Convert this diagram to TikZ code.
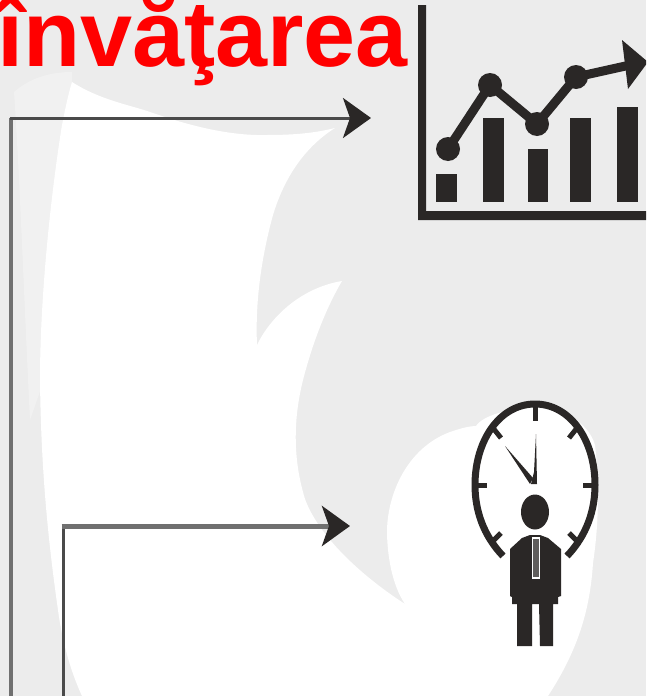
\documentclass[tikz,border=0pt]{standalone}
\usepackage{fontspec}
\setmainfont{Liberation Sans}
\usetikzlibrary{arrows.meta}
\definecolor{bg}{HTML}{ECECEC}
\definecolor{bgsoft}{HTML}{F1F1F1}
\definecolor{ink}{HTML}{2A2726}
\definecolor{wire}{HTML}{4A4A4A}
\definecolor{wirelight}{HTML}{707070}
\tikzset{
  title/.style={anchor=base west,inner sep=0pt,text=red,font=\fontsize{93.5}{94}\selectfont\bfseries},
  link/.style={draw=wire,line width=3pt},
  linkhead/.style={-{Stealth[length=28pt,width=40pt,inset=7pt,color=ink]}},
  inkfill/.style={fill=ink,draw=none},
  plotline/.style={draw=ink,line width=9pt},
  dot/.style={circle,fill=ink,draw=none,inner sep=0pt,minimum size=24pt},
  tick/.style={draw=ink,line width=5pt}
}
\begin{document}
\begin{tikzpicture}[x=1pt,y=-1pt]
\useasboundingbox (0,0) rectangle (646,696);
\clip (0,0) rectangle (646,696);
\fill[bg] (0,0) rectangle (646,696);
% soft band left of the flame
\fill[bgsoft] (14,92) .. controls (30,78) and (50,72) .. (72,72)
  -- (72,300) -- (30,420) .. controls (24,300) and (20,180) .. (14,92) -- cycle;
% white flame
\fill[white] (72,82)
  .. controls (100,100) and (130,105) .. (150,112)
  .. controls (190,126) and (230,136) .. (267,135)
  .. controls (295,135) and (315,133) .. (335,128)
  .. controls (300,150) and (282,185) .. (273,215)
  .. controls (262,255) and (255,300) .. (257,345)
  .. controls (270,318) and (300,288) .. (342,281)
  .. controls (325,310) and (312,345) .. (303,380)
  .. controls (293,420) and (293,460) .. (305,499)
  .. controls (318,535) and (360,575) .. (405,604)
  .. controls (392,585) and (387,555) .. (387,530)
  .. controls (388,490) and (410,445) .. (453,431)
  .. controls (462,428) and (470,426) .. (476,426)
  .. controls (490,405) and (580,395) .. (595,445)
  .. controls (600,490) and (598,530) .. (593,563)
  .. controls (590,610) and (578,650) .. (548,696)
  -- (82,696)
  .. controls (70,670) and (62,640) .. (58,610)
  .. controls (48,540) and (41,470) .. (40,380)
  .. controls (40,300) and (50,200) .. (62,125)
  .. controls (65,110) and (68,95) .. (72,82) -- cycle;
% chart
\path[inkfill] (418,5) rectangle (426,219) (418,211) rectangle (646,220);
\path[inkfill] (436,174) rectangle (457,202);
\path[inkfill] (483,118) rectangle (504,202);
\path[inkfill] (528,149) rectangle (548,202);
\path[inkfill] (570,118) rectangle (591,202);
\path[inkfill] (617,107) rectangle (638,202);
\node[dot] (p1) at (448,149) {};
\node[dot] (p2) at (490,85) {};
\node[dot] (p3) at (537,124) {};
\node[dot] (p4) at (576,77) {};
\coordinate (p5) at (630,65);
\draw[plotline] (p1.center) -- (p2.center) -- (p3.center) -- (p4.center) -- (p5);
\path[inkfill] (622,40) -- (648,62) -- (628,89) -- cycle;
% clock
\fill[white] (535,485) ellipse [x radius=60,y radius=81];
\draw[ink,line width=7pt] (503,556) .. controls (483,535) and (475,510) .. (475,485)
  .. controls (475,440) and (500,404) .. (535,404)
  .. controls (570,404) and (595,440) .. (595,485)
  .. controls (595,510) and (587,535) .. (567,556);
\draw[tick] (535,404) -- (535,421);
\draw[tick] (475,485) -- (487,485);
\draw[tick] (595,485) -- (583,485);
\draw[tick] (493,428) -- (501,438);
\draw[tick] (577,428) -- (569,438);
\draw[tick] (493,541) -- (501,533);
\draw[tick] (577,541) -- (569,533);
\path[inkfill] (536,434) -- (537,484) -- (531,484) -- (534,472) -- cycle;
\path[inkfill] (505,446) -- (533,478) -- (530,484) -- cycle;
% person
\path[inkfill] (535,512) ellipse [x radius=14,y radius=17.5];
\path[inkfill] (510,549) -- (522,538) -- (530,535) -- (540,535) -- (548,538) -- (561,549)
  -- (561,596) -- (558,597) -- (558,604) -- (553,604) -- (553,646) -- (540,646) -- (539,604)
  -- (532,604) -- (532,646) -- (517,646) -- (517,604) -- (512,604) -- (512,597) -- (510,596) -- cycle;
\draw[white,line width=1.2pt,fill=ink!75] (532.5,538) -- (539.5,538) -- (539.5,578) -- (532.5,578) -- cycle;
% connectors
\coordinate (c1a) at (11,696);
\coordinate (c1b) at (371,118);
\coordinate (c2a) at (63,696);
\coordinate (c2b) at (350,526);
\draw[link,wirelight,line width=4pt] (c1a) -- (c1a |- c1b);
\draw[link,linkhead,line cap=butt] (9.5,118) -- (c1b);
\draw[link] (c2a) -- (c2a |- c2b);
\draw[draw=wirelight,line width=5pt,linkhead] (61.5,526) -- (c2b);
% title
\node[title] (heading) at (-3,66) {învăţarea};
\end{tikzpicture}
\end{document}
